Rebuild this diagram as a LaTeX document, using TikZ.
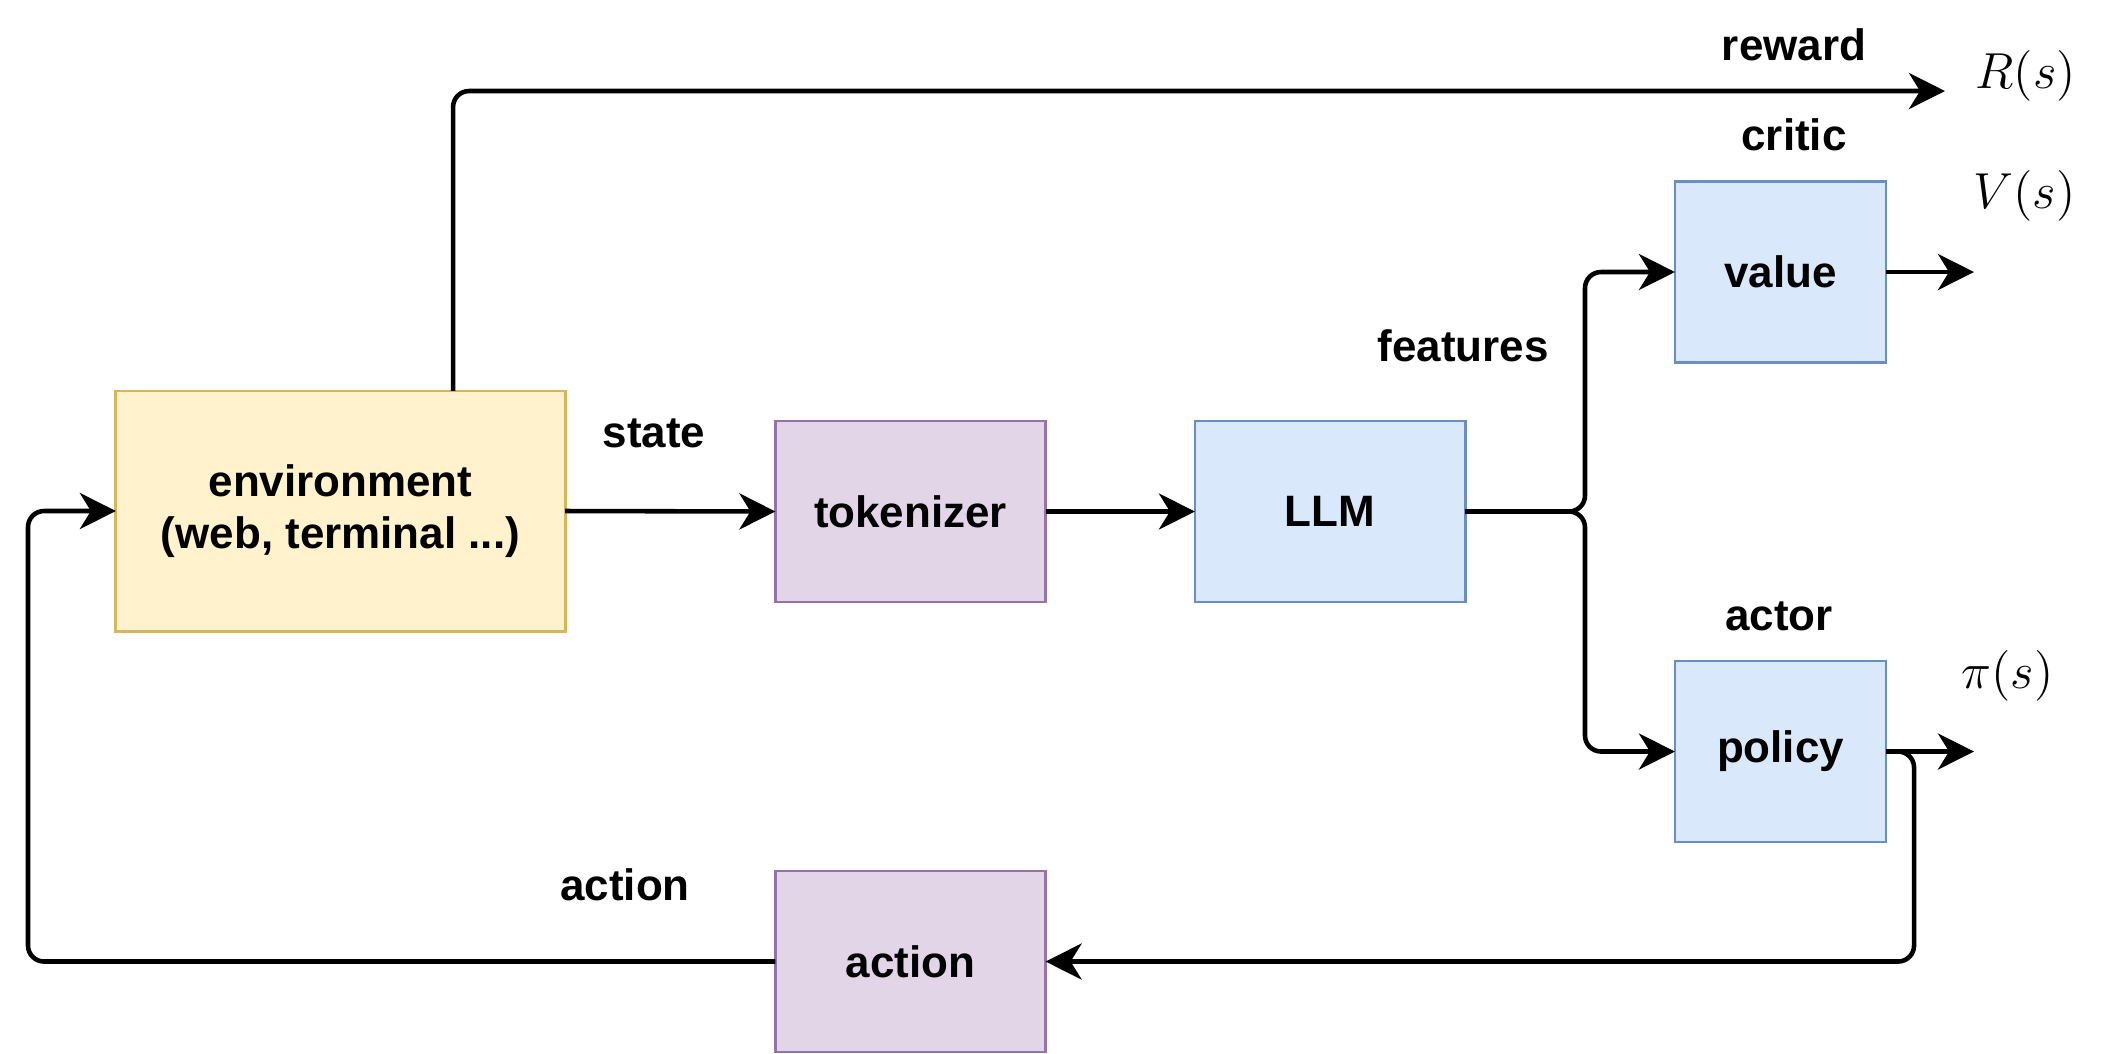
\documentclass[tikz,border=0pt]{standalone}
\usepackage{fontspec}
\setmainfont{Liberation Sans}
\usetikzlibrary{arrows.meta}
\definecolor{envfill}{HTML}{FFF2CC}
\definecolor{envline}{HTML}{D6B656}
\definecolor{tokfill}{HTML}{E1D5E7}
\definecolor{tokline}{HTML}{9673A6}
\definecolor{netfill}{HTML}{DAE8FC}
\definecolor{netline}{HTML}{6C8EBF}
\begin{document}
\begin{tikzpicture}[x=0.01cm,y=-0.01cm,
    box/.style={draw,line width=0.8pt,inner sep=0pt,outer sep=0pt,
      minimum height=1.81cm,align=center,
      font=\fontsize{12.5}{15}\selectfont\bfseries},
    envbox/.style={box,fill=envfill,draw=envline,minimum width=4.49cm,minimum height=2.40cm},
    tokbox/.style={box,fill=tokfill,draw=tokline,minimum width=2.70cm},
    netbox/.style={box,fill=netfill,draw=netline,minimum width=2.70cm},
    headbox/.style={box,fill=netfill,draw=netline,minimum width=2.11cm},
    lbl/.style={anchor=base,inner sep=0pt,font=\fontsize{12.5}{15}\selectfont\bfseries},
    mth/.style={anchor=base west,inner sep=0pt,font=\fontsize{14}{16}\selectfont},
    conn/.style={line width=1.3pt,rounded corners=0.16cm,
      -{Stealth[length=3.6mm,width=3.6mm,inset=1.1mm]}}]
    \useasboundingbox (0,0) rectangle (2115,1053);
    % boxes
    \node[envbox] (env) at (340.5,511) {environment\\(web, terminal ...)};
    \node[tokbox] (tok) at (910.5,511.5) {tokenizer};
    \node[netbox] (llm) at (1330,511.5) {LLM};
    \node[headbox] (val) at (1780.5,272) {value};
    \node[headbox] (pol) at (1780.5,751.5) {policy};
    \node[tokbox] (act) at (910.5,961.5) {action};
    % free ends
    \coordinate (fork) at (1585,511.5);
    \coordinate (rout) at (1945,91);
    \coordinate (vout) at (1974,272);
    \coordinate (pout) at (1974,751.5);
    \coordinate (back) at (28,961.5);
    % connectors
    \draw[conn] (env.east) -- (tok.west);
    \draw[conn] (tok.east) -- (llm.west);
    \draw[conn] (llm.east) -- (fork) |- (val.west);
    \draw[conn] (llm.east) -- (fork) |- (pol.west);
    \draw[conn] (val.east) -- (vout);
    \draw[conn] (pol.east) -- (pout);
    \draw[conn] (pol.east) -- ++(28,0) |- (act.east);
    \draw[conn] (act.west) -- (back) |- (env.west);
    \draw[conn] ([xshift=1.125cm]env.north) |- (rout);
    % labels
    \node[lbl] (rewardlbl) at (1794,60) {reward};
    \node[lbl] (criticlbl) at (1794,150) {critic};
    \node[lbl] (featlbl) at (1463,361) {features};
    \node[lbl] (statelbl) at (654,447) {state};
    \node[lbl] (actorlbl) at (1779,630) {actor};
    \node[lbl] (actlbl) at (625,900) {action};
    \node[mth] (rlbl) at (1975,88) {$R(s)$};
    \node[mth] (vlbl) at (1973,208) {$V(s)$};
    \node[mth] (plbl) at (1961,688) {$\pi(s)$};
\end{tikzpicture}
\end{document}
